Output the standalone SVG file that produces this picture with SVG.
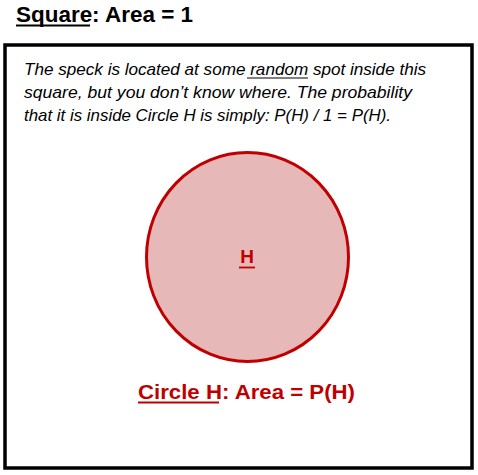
<svg xmlns="http://www.w3.org/2000/svg" width="478" height="475" viewBox="0 0 478 475">
<style>
.t{font-family:"Liberation Sans","DejaVu Sans",sans-serif}
.b{font-weight:bold}
.i{font-style:italic;font-size:17px;fill:#000}
.red{fill:#c00000}
.ul{stroke-width:1.8}
</style>
<rect width="478" height="475" fill="#fff"/>
<g id="title">
<text class="t b" x="16" y="22" font-size="22" textLength="177" lengthAdjust="spacingAndGlyphs">Square: Area = 1</text>
<line x1="16" y1="25.5" x2="90" y2="25.5" stroke="#000" class="ul"/>
</g>
<g id="square">
<rect x="5" y="45" width="467" height="423" fill="#fff" stroke="#000" stroke-width="3.5"/>
</g>
<g id="description">
<text class="t i" x="24" y="75" textLength="402" lengthAdjust="spacingAndGlyphs">The speck is located at some random spot inside this</text>
<line x1="247" y1="78" x2="308" y2="78" stroke="#000" stroke-width="1.2"/>
<text class="t i" x="24" y="98" textLength="388" lengthAdjust="spacingAndGlyphs">square, but you don’t know where. The probability</text>
<text class="t i" x="24" y="121" textLength="367" lengthAdjust="spacingAndGlyphs">that it is inside Circle H is simply: P(H) / 1 = P(H).</text>
</g>
<g id="circleH">
<ellipse cx="247.5" cy="257" rx="101" ry="104.5" fill="#e6b8b7" stroke="#c00000" stroke-width="3"/>
<text class="t b red" x="247" y="263" font-size="19" text-anchor="middle">H</text>
<line x1="239" y1="267.5" x2="255" y2="267.5" stroke="#c00000" class="ul"/>
</g>
<g id="circleLabel">
<text class="t b red" x="138" y="398.5" font-size="20.5" textLength="217" lengthAdjust="spacingAndGlyphs">Circle H: Area = P(H)</text>
<line x1="138" y1="402.5" x2="219" y2="402.5" stroke="#c00000" class="ul"/>
</g>
</svg>
